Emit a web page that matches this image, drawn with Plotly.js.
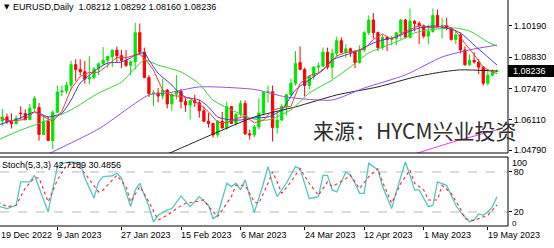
<!DOCTYPE html>
<html><head><meta charset="utf-8">
<script src="https://cdn.plot.ly/plotly-3.0.1.min.js"></script>
<style>html,body{margin:0;padding:0;background:#fff;overflow:hidden}#chart{width:554px;height:248px}</style>
</head><body><div id="chart"></div>
<script>
// ---- categories: trading days shown on the chart ----
const dates = [
 '2022-12-19','2022-12-20','2022-12-21','2022-12-22','2022-12-23','2022-12-27','2022-12-28','2022-12-29','2022-12-30',
 '2023-01-03','2023-01-04','2023-01-05','2023-01-06','2023-01-09','2023-01-10','2023-01-11','2023-01-12','2023-01-13',
 '2023-01-16','2023-01-17','2023-01-18','2023-01-19','2023-01-20','2023-01-23','2023-01-24','2023-01-25','2023-01-26',
 '2023-01-27','2023-01-30','2023-01-31',
 '2023-02-01','2023-02-02','2023-02-03','2023-02-06','2023-02-07','2023-02-08','2023-02-09','2023-02-10','2023-02-13',
 '2023-02-14','2023-02-15','2023-02-16','2023-02-17','2023-02-20','2023-02-21','2023-02-22','2023-02-23','2023-02-24',
 '2023-02-27','2023-02-28',
 '2023-03-01','2023-03-02','2023-03-03','2023-03-06','2023-03-07','2023-03-08','2023-03-09','2023-03-10','2023-03-13',
 '2023-03-14','2023-03-15','2023-03-16','2023-03-17','2023-03-20','2023-03-21','2023-03-22','2023-03-23','2023-03-24',
 '2023-03-27','2023-03-28','2023-03-29','2023-03-30','2023-03-31',
 '2023-04-03','2023-04-04','2023-04-05','2023-04-06','2023-04-07','2023-04-10','2023-04-11','2023-04-12','2023-04-13',
 '2023-04-14','2023-04-17','2023-04-18','2023-04-19','2023-04-20','2023-04-21','2023-04-24','2023-04-25','2023-04-26',
 '2023-04-27','2023-04-28',
 '2023-05-01','2023-05-02','2023-05-03','2023-05-04','2023-05-05','2023-05-08','2023-05-09','2023-05-10','2023-05-11',
 '2023-05-12','2023-05-15','2023-05-16','2023-05-17','2023-05-18','2023-05-19','2023-05-22','2023-05-23'
];

// ---- EURUSD daily OHLC ----
const open = [
 1.0584,1.0606,1.0623,1.0602,1.0594,1.0640,1.0638,1.0611,1.0661,1.0665,
 1.0547,1.0605,1.0521,1.0644,1.0732,1.0736,1.0761,1.0851,1.0830,1.0820,
 1.0788,1.0795,1.0832,1.0855,1.0870,1.0886,1.0914,1.0890,1.0869,1.0848,
 1.0863,1.0990,1.0905,1.0795,1.0725,1.0728,1.0714,1.0740,1.0680,1.0722,
 1.0735,1.0690,1.0675,1.0695,1.0685,1.0650,1.0605,1.0595,1.0545,1.0605,
 1.0575,1.0668,1.0595,1.0635,1.0682,1.0550,1.0545,1.0580,1.0640,1.0730,
 1.0733,1.0577,1.0610,1.0670,1.0720,1.0770,1.0860,1.0830,1.0760,1.0800,
 1.0840,1.0845,1.0905,1.0840,1.0900,1.0955,1.0905,1.0920,1.0905,1.0860,
 1.0915,1.0990,1.1045,1.0990,1.0925,1.0970,1.0960,1.0965,1.0990,1.1045,
 1.0970,1.1040,1.1030,1.1020,1.0975,1.0995,1.1065,1.1015,1.1020,1.1010,
 1.0960,1.0980,1.0915,1.0850,1.0870,1.0862,1.0840,1.0770,1.0805,1.08212];
const high = [
 1.0638,1.0658,1.0638,1.0638,1.0631,1.0670,1.0656,1.0680,1.0714,1.0684,
 1.0631,1.0625,1.0652,1.0760,1.0760,1.0776,1.0868,1.0874,1.0874,1.0867,
 1.0887,1.0842,1.0860,1.0927,1.0890,1.0917,1.0929,1.0915,1.0914,1.0870,
 1.1033,1.1030,1.0925,1.0805,1.0740,1.0749,1.0790,1.0745,1.0725,1.0805,
 1.0745,1.0710,1.0695,1.0720,1.0697,1.0670,1.0640,1.0598,1.0610,1.0645,
 1.0690,1.0670,1.0640,1.0695,1.0695,1.0568,1.0590,1.0705,1.0735,1.0760,
 1.0760,1.0640,1.0680,1.0725,1.0790,1.0910,1.0930,1.0838,1.0805,1.0845,
 1.0860,1.0925,1.0925,1.0920,1.0973,1.0970,1.0940,1.0925,1.0915,1.0935,
 1.0998,1.1065,1.1075,1.0995,1.0980,1.0975,1.0975,1.0990,1.1050,1.1050,
 1.1095,1.1045,1.1040,1.1025,1.1025,1.1095,1.1090,1.1055,1.1055,1.1015,
 1.1000,1.0990,1.0930,1.0895,1.0905,1.0875,1.0845,1.0830,1.0830,1.08292];
const low = [
 1.0575,1.0585,1.0593,1.0573,1.0589,1.0612,1.0611,1.0610,1.0650,1.0520,
 1.0544,1.0518,1.0483,1.0640,1.0713,1.0724,1.0740,1.0780,1.0805,1.0768,
 1.0765,1.0786,1.0805,1.0850,1.0835,1.0841,1.0863,1.0835,1.0840,1.0805,
 1.0830,1.0895,1.0792,1.0710,1.0670,1.0687,1.0700,1.0660,1.0650,1.0700,
 1.0660,1.0645,1.0612,1.0667,1.0620,1.0600,1.0577,1.0533,1.0535,1.0575,
 1.0565,1.0595,1.0585,1.0625,1.0545,1.0524,1.0535,1.0570,1.0630,1.0685,
 1.0516,1.0550,1.0605,1.0630,1.0715,1.0760,1.0830,1.0713,1.0745,1.0785,
 1.0815,1.0840,1.0830,1.0790,1.0885,1.0900,1.0880,1.0885,1.0835,1.0855,
 1.0905,1.0980,1.0965,1.0910,1.0915,1.0910,1.0935,1.0935,1.0960,1.0965,
 1.0965,1.0995,1.0940,1.0965,1.0940,1.0990,1.1015,1.0965,1.1000,1.0955,
 1.0940,1.0900,1.0848,1.0845,1.0855,1.0810,1.0760,1.0760,1.0800,1.08160];
const close = [
 1.0606,1.0623,1.0602,1.0594,1.0617,1.0638,1.0611,1.0661,1.0704,1.0547,
 1.0605,1.0521,1.0644,1.0732,1.0736,1.0761,1.0851,1.0830,1.0820,1.0788,
 1.0795,1.0832,1.0855,1.0870,1.0886,1.0914,1.0890,1.0869,1.0848,1.0863,
 1.0990,1.0905,1.0795,1.0725,1.0728,1.0714,1.0740,1.0680,1.0722,1.0735,
 1.0690,1.0675,1.0695,1.0685,1.0650,1.0605,1.0595,1.0545,1.0605,1.0575,
 1.0668,1.0595,1.0635,1.0682,1.0550,1.0545,1.0580,1.0640,1.0730,1.0733,
 1.0577,1.0610,1.0670,1.0720,1.0770,1.0855,1.0830,1.0760,1.0800,1.0840,
 1.0845,1.0905,1.0840,1.0900,1.0955,1.0905,1.0920,1.0905,1.0860,1.0915,
 1.0990,1.1045,1.0990,1.0925,1.0970,1.0960,1.0965,1.0990,1.1045,1.0970,
 1.1040,1.1030,1.1020,1.0975,1.0995,1.1065,1.1015,1.1020,1.1010,1.0960,
 1.0980,1.0915,1.0850,1.0870,1.0862,1.0840,1.0770,1.0805,1.0821,1.08236];

// ---- moving averages (bar index, value) ----
const ma5Idx = [0,2,4,6,8,10,12,14,16,18,20,22,24,26,28,30,31,32,34,36,38,40,42,44,46,48,50,52,54,56,58,60,62,64,66,68,70,72,74,76,78,80,82,84,86,88,90,92,94,96,98,100,102,104,106,108,109];
const ma5Val = [1.0625,1.0608,1.0608,1.0612,1.0646,1.0626,1.0604,1.0648,1.0745,1.0800,1.0817,1.0818,1.0848,1.0883,1.0881,1.0892,1.0895,1.0880,1.0828,1.0740,1.0716,1.0713,1.0703,1.0679,1.0646,1.0600,1.0598,1.0616,1.0626,1.0598,1.0609,1.0652,1.0664,1.0669,1.0769,1.0803,1.0815,1.0846,1.0889,1.0904,1.0909,1.0918,1.0960,1.0984,1.0962,1.0986,1.1002,1.1021,1.1012,1.1014,1.1021,1.0997,1.0943,1.0895,1.0838,1.0818,1.0811];
const ma10Idx = [0,5,8,9,11,14,16,18,20,22,24,27,29,30,32,33,35,38,39,41,44,46,48,51,53,56,59,62,65,68,71,73,76,78,82,84,87,89,92,95,98,101,104,107,109];
const ma10Val = [1.0588,1.0619,1.0645,1.0640,1.0623,1.0640,1.0697,1.0771,1.0805,1.0836,1.0858,1.0862,1.0880,1.0893,1.0902,1.0871,1.0814,1.0762,1.0740,1.0710,1.0697,1.0667,1.0623,1.0610,1.0610,1.0619,1.0623,1.0654,1.0741,1.0784,1.0827,1.0871,1.0893,1.0906,1.0945,1.0958,1.0971,1.0989,1.1010,1.1019,1.1010,1.0989,1.0936,1.0884,1.0849];
const ma20Idx = [0,5,11,16,22,27,30,32,35,40,44,47,51,56,59,64,68,73,77,81,88,91,94,100,103,105,107,109];
const ma20Val = [1.0523,1.0566,1.0610,1.0654,1.0727,1.0775,1.0836,1.0871,1.0849,1.0819,1.0767,1.0697,1.0654,1.0614,1.0610,1.0654,1.0727,1.0784,1.0841,1.0902,1.0958,1.0989,1.1002,1.1010,1.0997,1.0975,1.0949,1.0932];
const ma50Idx = [10,11,22,33,37,44,56,63,73,80,89,97,103,109];
const ma50Val = [1.0452,1.0462,1.0571,1.0719,1.0727,1.0754,1.0743,1.0710,1.0697,1.0749,1.0806,1.0884,1.0915,1.0936];
const ma100Idx = [36,37,47,56,65,74,83,91,97,101,109];
const ma100Val = [1.0455,1.0462,1.0549,1.0623,1.0667,1.0719,1.0754,1.0797,1.0819,1.0828,1.0823];
const ma200Idx = [90,100,109];
const ma200Val = [1.0456,1.0518,1.0567];

// ---- Stochastic(5,3,3) ----
const stochKIdx = [0,2,4,5,7,8,11,13,14,16,18,19,21,22,23,25,26,27,29,30,31,33,34,35,37,38,40,42,44,46,47,48,50,51,52,53,54,56,58,59,60,61,63,65,66,68,70,71,72,73,74,76,77,78,79,80,81,83,84,86,87,89,90,91,92,94,95,96,98,100,101,103,104,105,106,107,108,109];
const stochK = [29,25,30,65,65,75,20,88,93,95,93,71,41,65,73,74,78,71,28,53,63,28,5,15,23,25,44,28,43,30,10,15,63,58,63,53,68,19,63,88,62,43,63,88,85,40,43,75,75,53,50,80,75,63,48,48,93,83,58,25,50,95,75,53,53,28,30,65,60,30,20,5,8,17,15,20,28,42.7189];
const stochDIdx = [0,2,4,6,8,9,11,13,15,17,19,22,23,25,26,28,29,31,33,35,37,39,41,43,45,46,48,49,51,52,54,56,57,59,60,61,62,64,66,68,70,72,73,76,77,79,81,83,84,86,88,90,91,93,94,96,97,99,101,102,104,105,107,109];
const stochD = [35,28,30,56,71,71,35,68,90,93,78,50,53,68,75,58,35,58,35,8,15,25,33,35,38,28,13,23,43,60,60,35,33,63,80,65,48,65,85,63,45,65,58,70,75,55,73,85,65,33,63,83,63,53,38,38,60,48,25,10,7,10,15,30.4856];

// ---- axis labels ----
const priceTicks = [1.04790,1.06110,1.07470,1.08830,1.10190];
const dateLabelDays = ['2022-12-19','2023-01-09','2023-01-27','2023-02-15','2023-03-06','2023-03-24','2023-04-12','2023-05-01','2023-05-19'];
const dateLabelText = ['19 Dec 2022','9 Jan 2023','27 Jan 2023','15 Feb 2023','6 Mar 2023','24 Mar 2023','12 Apr 2023','1 May 2023','19 May 2023'];
const symbolTitle = 'EURUSD,Daily';
const watermark = '来源：HYCM兴业投资';

// ---------------------------------------------------------------
const barIdx = dates.map((d, i) => i);
const last = close.length - 1;
const labelIdx = dateLabelDays.map(d => dates.indexOf(d));
const FONT = 'Liberation Sans, Arial, sans-serif';
const XR = [0.48, 111.4];

function ma(xs, ys, color, w) {
  return {type:'scatter', mode:'lines', x:xs, y:ys, xaxis:'x', yaxis:'y',
    line:{color:color, width:w || 1, shape:'spline', smoothing:0.6}, hoverinfo:'skip'};
}

const traces = [
  {type:'candlestick', x:barIdx, open:open, high:high, low:low, close:close, xaxis:'x', yaxis:'y',
   increasing:{line:{color:'#00e600', width:1}, fillcolor:'#00e600'},
   decreasing:{line:{color:'#ff0000', width:1}, fillcolor:'#ff0000'},
   whiskerwidth:0, hoverinfo:'skip'},
  ma(ma200Idx, ma200Val, '#f03cf0'),
  ma(ma100Idx, ma100Val, '#222222'),
  ma(ma50Idx, ma50Val, '#9b4fdc'),
  ma(ma20Idx, ma20Val, '#3ccf3c'),
  ma(ma10Idx, ma10Val, '#3a3ad0'),
  {type:'scatter', mode:'lines', x:ma5Idx, y:ma5Val, xaxis:'x', yaxis:'y',
   line:{color:'#f03c3c', width:1}, hoverinfo:'skip'},
  {type:'scatter', mode:'lines', x:stochKIdx, y:stochK, xaxis:'x', yaxis:'y2',
   line:{color:'#55c4c4', width:1.3}, hoverinfo:'skip'},
  {type:'scatter', mode:'lines', x:stochDIdx, y:stochD, xaxis:'x', yaxis:'y2',
   line:{color:'#e83030', width:1.1, dash:'dot'}, hoverinfo:'skip'}
];

const PW = 508, PH = 226;         // plot area in px
const yMainBot = 153, yStochTop = 157;
const pY = px => (PH - px) / PH;   // px (from top) -> paper
const pX = ix => (ix - XR[0]) / (XR[1] - XR[0]);

const shapes = [
  {type:'line', xref:'paper', yref:'y2', x0:0, x1:1, y0:20, y1:20, line:{color:'#b8b8b8', width:1, dash:'dash'}, layer:'below'},
  {type:'line', xref:'paper', yref:'y2', x0:0, x1:1, y0:80, y1:80, line:{color:'#b8b8b8', width:1, dash:'dash'}, layer:'below'},
  {type:'line', xref:'paper', yref:'paper', x0:0, x1:1, y0:pY(yMainBot), y1:pY(yMainBot), line:{color:'#000', width:1}},
  {type:'line', xref:'paper', yref:'paper', x0:1, x1:1, y0:pY(yMainBot), y1:1, line:{color:'#000', width:1}},
  {type:'line', xref:'paper', yref:'paper', x0:0, x1:1, y0:pY(yStochTop), y1:pY(yStochTop), line:{color:'#000', width:1}},
  {type:'line', xref:'paper', yref:'paper', x0:0, x1:1, y0:0, y1:0, line:{color:'#000', width:1}},
  {type:'line', xref:'paper', yref:'paper', x0:1, x1:1, y0:0, y1:pY(yStochTop), line:{color:'#000', width:1}},
  {type:'rect', xref:'paper', yref:'paper', x0:1, x1:554/PW, y0:pY(77), y1:pY(65), fillcolor:'#000', line:{width:0}}
];

const annotations = [
  {xref:'paper', yref:'paper', x:2/PW, y:pY(7), xanchor:'left', yanchor:'middle', showarrow:false,
   text:'▼', font:{family:'DejaVu Sans', size:7, color:'#000'}},
  {xref:'paper', yref:'paper', x:11/PW, y:pY(7), xanchor:'left', yanchor:'middle', showarrow:false,
   text: symbolTitle + '\u00a0\u00a0' + [open[last], high[last], low[last], close[last]].map(v => v.toFixed(5)).join(' '),
   font:{family:FONT, size:9, color:'#000'}},
  {xref:'paper', yref:'paper', x:0, y:pY(165), xanchor:'left', yanchor:'middle', showarrow:false,
   text:'Stoch(5,3,3) ' + stochK[stochK.length-1].toFixed(4) + ' ' + stochD[stochD.length-1].toFixed(4),
   font:{family:FONT, size:9, color:'#000'}},
  {xref:'paper', yref:'y2', x:1, y:100, xanchor:'left', yanchor:'middle', xshift:3, yshift:-4, showarrow:false,
   borderpad:0, text:'100', font:{family:FONT, size:9, color:'#000'}},
  {xref:'paper', yref:'y2', x:1, y:0, xanchor:'left', yanchor:'middle', xshift:3, yshift:2, showarrow:false,
   borderpad:0, text:'0', font:{family:FONT, size:8, color:'#000'}},
  {xref:'paper', yref:'paper', x:1, y:pY(71), xanchor:'left', yanchor:'middle', xshift:3, showarrow:false,
   text: close[last].toFixed(5), font:{family:FONT, size:9, color:'#fff'}},
  {xref:'paper', yref:'paper', x:311/PW, y:pY(130), xanchor:'left', yanchor:'middle', showarrow:false,
   text: watermark, font:{family:'Noto Sans CJK SC', size:21, color:'#2e2e2e'}}
];
labelIdx.forEach((ix, k) => {
  const px = Math.max(pX(ix), 0);
  annotations.push({xref:'paper', yref:'paper', x:px, y:0, xanchor:'left', yanchor:'top', yshift:-2,
    xshift: px === 0 ? -1 : -2,
    showarrow:false, text:dateLabelText[k], font:{family:FONT, size:9, color:'#000'}});
});

const layout = {
  width:554, height:248, margin:{l:0, r:554-PW, t:0, b:248-PH, pad:0},
  paper_bgcolor:'#fff', plot_bgcolor:'#fff', showlegend:false,
  font:{family:FONT, size:9, color:'#000'},
  xaxis:{range:XR, anchor:'y2', showgrid:false, zeroline:false, showline:false,
    showticklabels:false, tickmode:'array', tickvals:labelIdx, ticks:'outside', ticklen:3,
    tickcolor:'#000', tickwidth:1, rangeslider:{visible:false}, fixedrange:true},
  yaxis:{domain:[pY(yMainBot), 1], range:[1.04664, 1.11321], side:'right', anchor:'x',
    tickmode:'array', tickvals:priceTicks, ticktext:priceTicks.map(v => v.toFixed(5)),
    ticks:'outside', ticklen:3, tickcolor:'#000', showgrid:false, zeroline:false, showline:false,
    tickfont:{family:FONT, size:9, color:'#000'}},
  yaxis2:{domain:[0, pY(yStochTop)], range:[-1.05, 102.4], side:'right', anchor:'x',
    tickmode:'array', tickvals:[20, 80], ticktext:['20', '80'],
    ticks:'outside', ticklen:3, tickcolor:'#000', showgrid:false, zeroline:false, showline:false,
    tickfont:{family:FONT, size:9, color:'#000'}},
  shapes:shapes, annotations:annotations
};

Plotly.newPlot('chart', traces, layout, {staticPlot:true, displayModeBar:false});
</script></body></html>
